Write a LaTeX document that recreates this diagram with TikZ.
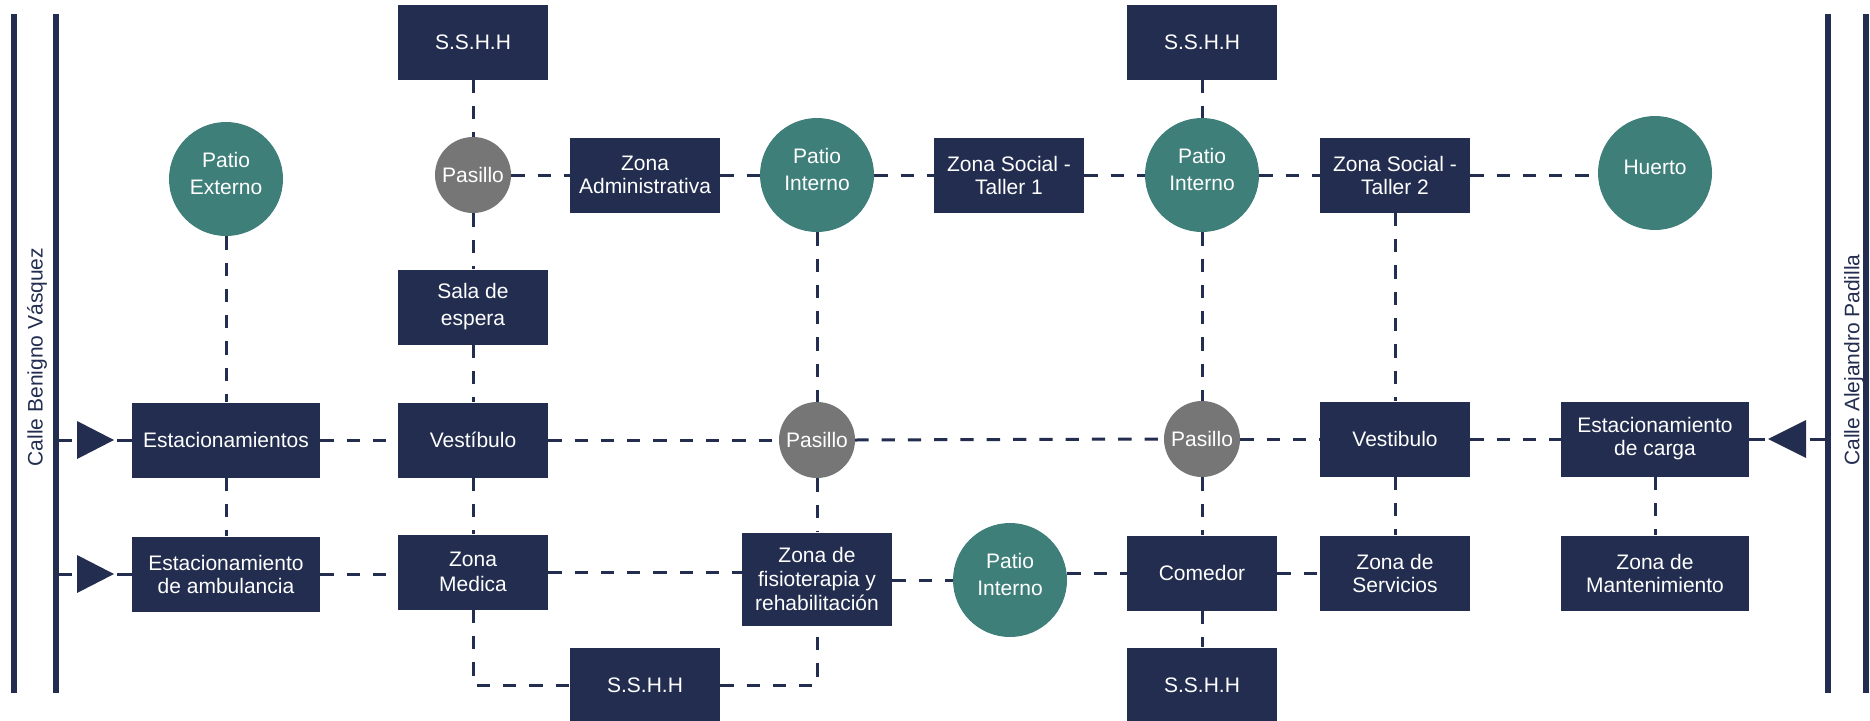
\documentclass[tikz,border=0pt]{standalone}
\usepackage{fontspec}
\setmainfont{Liberation Sans}
\usetikzlibrary{calc}
\definecolor{navy}{HTML}{222D4F}
\definecolor{tealc}{HTML}{3E7F7A}
\definecolor{grayc}{HTML}{767676}
\begin{document}
\begin{tikzpicture}[x=1pt,y=-1pt,
  box/.style={fill=navy, text=white, minimum width=150pt, minimum height=75pt, inner sep=2pt, align=center, font=\fontsize{21pt}{23pt}\selectfont},
  wbox/.style={box, minimum width=188pt},
  patio/.style={circle, fill=tealc, minimum size=114pt, inner sep=0pt},
  ptext/.style={text=white, align=center, font=\fontsize{21pt}{27pt}\selectfont, yshift=6pt, inner sep=0pt},
  pas/.style={circle, fill=grayc, text=white, minimum size=76pt, inner sep=0pt, font=\fontsize{21pt}{23pt}\selectfont},
  conn/.style={draw=navy, line width=3pt, dash pattern=on 13.3pt off 13pt},
  solidlink/.style={draw=navy, line width=3pt},
  street/.style={draw=navy, line width=5.5pt},
  stext/.style={text=navy, font=\fontsize{21pt}{23pt}\selectfont, rotate=90, inner sep=0pt},
]
\useasboundingbox (0,0) rectangle (1870,720);

% streets
\coordinate (L1t) at (14,14);   \coordinate (L1b) at (14,693);
\coordinate (L2t) at (56,14);   \coordinate (L2b) at (56,693);
\coordinate (R1t) at (1828,14); \coordinate (R1b) at (1828,693);
\coordinate (R2t) at (1866,14); \coordinate (R2b) at (1866,693);
\draw[street] (L1t) -- (L1b);
\draw[street] (L2t) -- (L2b);
\draw[street] (R1t) -- (R1b);
\draw[street] (R2t) -- (R2b);
\node[stext] (calleL) at (37,357) {Calle Benigno Vásquez};
\node[stext] (calleR) at (1854,360) {Calle Alejandro Padilla};

% top row
\node[box] (sshhA) at (473,42) {S.S.H.H};
\node[box] (sshhB) at (1202,42) {S.S.H.H};

% row 1
\node[patio, label={[ptext]center:{Patio\\Externo}}] (pext) at (226,179) {};
\node[pas] (pasA) at (473,175) {Pasillo};
\node[box] (zadm) at (645,175) {Zona\\Administrativa};
\node[patio, label={[ptext]center:{Patio\\Interno}}] (pint1) at (817,175) {};
\node[box] (zs1) at (1009,175) {Zona Social -\\Taller 1};
\node[patio, label={[ptext]center:{Patio\\Interno}}] (pint2) at (1202,175) {};
\node[box] (zs2) at (1395,175) {Zona Social -\\Taller 2};
\node[patio, label={[ptext]center:{Huerto}}] (huerto) at (1655,173) {};

\node[box, font=\fontsize{21pt}{27pt}\selectfont] (sala) at (473,307) {Sala de\\espera};

% row 2
\node[wbox] (estac) at (226,440) {Estacionamientos};
\node[box] (vest1) at (473,440) {Vestíbulo};
\node[pas] (pasB) at (817,440) {Pasillo};
\node[pas] (pasC) at (1202,439) {Pasillo};
\node[box] (vest2) at (1395,439) {Vestibulo};
\node[wbox] (ecarga) at (1655,439) {Estacionamiento\\de carga};

% row 3
\node[wbox] (ambu) at (226,574) {Estacionamiento\\de ambulancia};
\node[box, font=\fontsize{21pt}{25pt}\selectfont] (zmed) at (473,572) {Zona\\Medica};
\node[box, minimum height=93pt, font=\fontsize{21pt}{24pt}\selectfont] (fisio) at (817,579) {Zona de\\fisioterapia y\\rehabilitación};
\node[patio, label={[ptext]center:{Patio\\Interno}}] (pint3) at (1010,580) {};
\node[box] (comedor) at (1202,573) {Comedor};
\node[box] (zserv) at (1395,573) {Zona de\\Servicios};
\node[wbox] (zmant) at (1655,573) {Zona de\\Mantenimiento};

% bottom
\node[box] (sshhC) at (645,685) {S.S.H.H};
\node[box] (sshhD) at (1202,685) {S.S.H.H};

% vertical connectors
\draw[conn] (sshhA.south) -- (pasA.north);
\draw[conn] (pasA.south) -- (sala.north);
\draw[conn] (sala.south) -- (vest1.north);
\draw[conn] (vest1.south) -- (zmed.north);
\draw[conn] (zmed.south) |- (sshhC.west);
\draw[conn] (sshhC.east) -| (fisio.south);
\draw[conn] (pext.south) -- (estac.north);
\draw[conn] (estac.south) -- (ambu.north);
\draw[conn] (pint1.south) -- (pasB.north);
\draw[conn] (pasB.south) -- (fisio.north);
\draw[conn] (sshhB.south) -- (pint2.north);
\draw[conn] (pint2.south) -- (pasC.north);
\draw[conn] (pasC.south) -- (comedor.north);
\draw[conn] (comedor.south) -- (sshhD.north);
\draw[conn] (zs2.south) -- (vest2.north);
\draw[conn] (vest2.south) -- (zserv.north);
\draw[conn] (ecarga.south) -- (zmant.north);

% horizontal connectors row 1
\draw[conn] (pasA.east) -- (zadm.west);
\draw[conn] (zadm.east) -- (pint1.west);
\draw[conn] (pint1.east) -- (zs1.west);
\draw[conn] (zs1.east) -- (pint2.west);
\draw[conn] (pint2.east) -- (zs2.west);
\draw[conn] (zs2.east) -- (zs2.east -| huerto.west);

% row 2
\draw[conn] (estac.east) -- (vest1.west);
\draw[conn] (vest1.east) -- (pasB.west);
\draw[conn] (pasB.east) -- (pasC.west);
\draw[conn] (pasC.east) -- (vest2.west);
\draw[conn] (vest2.east) -- (ecarga.west);

% row 3
\draw[conn] (ambu.east) -- (ambu.east -| zmed.west);
\draw[conn] (zmed.east) -- (zmed.east -| fisio.west);
\draw[conn] (fisio.east |- pint3.west) -- (pint3.west);
\draw[conn] (pint3.east |- comedor.west) -- (comedor.west);
\draw[conn] (comedor.east) -- (zserv.west);

% entrance arrows
\coordinate (s1) at (58,440);  \coordinate (a1b) at (77,440);  \coordinate (a1t) at (114,440);
\coordinate (s2) at (58,574);  \coordinate (a2b) at (77,574);  \coordinate (a2t) at (114,574);
\coordinate (s3) at (1826,439); \coordinate (a3b) at (1806,439); \coordinate (a3t) at (1768,439);
\draw[solidlink] (s1) -- ([xshift=-5pt]a1b);
\fill[navy] ([yshift=19pt]a1b) -- (a1t) -- ([yshift=-19pt]a1b) -- cycle;
\draw[solidlink] ([xshift=3pt]a1t) -- (estac.west);
\draw[solidlink] (s2) -- ([xshift=-5pt]a2b);
\fill[navy] ([yshift=19pt]a2b) -- (a2t) -- ([yshift=-19pt]a2b) -- cycle;
\draw[solidlink] ([xshift=3pt]a2t) -- (ambu.west);
\draw[solidlink] (s3) -- ([xshift=4pt]a3b);
\fill[navy] ([yshift=19pt]a3b) -- (a3t) -- ([yshift=-19pt]a3b) -- cycle;
\draw[solidlink] ([xshift=-3pt]a3t) -- (ecarga.east);
\end{tikzpicture}
\end{document}
